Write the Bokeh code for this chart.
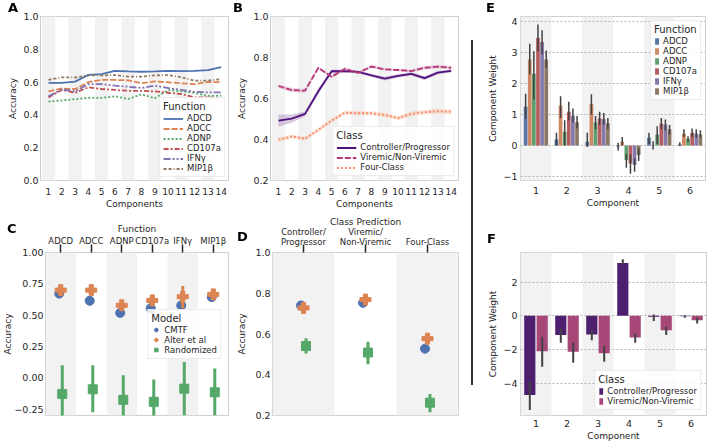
import colorsys
from bokeh.plotting import figure
from bokeh.layouts import row, column
from bokeh.models import Legend, LegendItem, FixedTicker, BoxAnnotation, Div, Range1d
from bokeh.embed import file_html
from bokeh.resources import INLINE

# ---------------- data ----------------
components = [1, 2, 3, 4, 5, 6, 7, 8, 9, 10, 11, 12, 13, 14]
functions = ["ADCD", "ADCC", "ADNP", "CD107a", "IFNγ", "MIP1β"]

# Panel A: accuracy by number of components per function
acc_ADCD = [0.595, 0.595, 0.603, 0.644, 0.649, 0.669, 0.665, 0.663, 0.665, 0.669, 0.667, 0.669, 0.673, 0.692]
acc_ADCC = [0.543, 0.561, 0.557, 0.600, 0.613, 0.613, 0.611, 0.594, 0.604, 0.599, 0.593, 0.587, 0.601, 0.599]
acc_ADNP = [0.481, 0.488, 0.496, 0.504, 0.504, 0.514, 0.497, 0.525, 0.502, 0.551, 0.544, 0.534, 0.516, 0.517]
acc_CD107a = [0.507, 0.552, 0.535, 0.568, 0.558, 0.552, 0.547, 0.547, 0.543, 0.535, 0.527, 0.507, 0.507, 0.501]
acc_IFNg = [0.513, 0.556, 0.543, 0.588, 0.588, 0.578, 0.572, 0.564, 0.578, 0.564, 0.552, 0.541, 0.537, 0.537]
acc_MIP1b = [0.614, 0.629, 0.628, 0.641, 0.641, 0.643, 0.633, 0.633, 0.641, 0.643, 0.630, 0.609, 0.609, 0.618]

# Panel B: accuracy by class task
class_names = ["Controller/Progressor", "Viremic/Non-Viremic", "Four-Class"]
acc_cp = [0.492, 0.502, 0.525, 0.635, 0.733, 0.734, 0.730, 0.713, 0.697, 0.710, 0.720, 0.699, 0.726, 0.735]
ci_cp = [0.030, 0.020, 0.012, 0.015, 0.008, 0.008, 0.007, 0.008, 0.009, 0.009, 0.008, 0.010, 0.008, 0.008]
acc_vnv = [0.661, 0.641, 0.638, 0.750, 0.706, 0.745, 0.725, 0.756, 0.742, 0.739, 0.734, 0.750, 0.755, 0.750]
ci_vnv = [0.008, 0.010, 0.010, 0.006, 0.006, 0.008, 0.006, 0.009, 0.006, 0.006, 0.006, 0.008, 0.008, 0.008]
acc_four = [0.399, 0.415, 0.404, 0.447, 0.492, 0.531, 0.528, 0.528, 0.520, 0.504, 0.525, 0.533, 0.538, 0.535]
ci_four = [0.010, 0.010, 0.010, 0.010, 0.010, 0.010, 0.010, 0.010, 0.010, 0.010, 0.012, 0.012, 0.012, 0.012]

# Panel C: model comparison per function
models = ["CMTF", "Alter et al", "Randomized"]
c_cmtf = [0.672, 0.615, 0.518, 0.556, 0.578, 0.644]
c_alter = [0.700, 0.700, 0.579, 0.618, 0.647, 0.666]
c_alter_lo = [0.690, 0.690, 0.570, 0.610, 0.555, 0.657]
c_alter_hi = [0.710, 0.710, 0.588, 0.626, 0.733, 0.675]
c_rand = [-0.128, -0.091, -0.175, -0.191, -0.086, -0.115]
c_rand_lo = [-0.360, -0.275, -0.370, -0.370, -0.300, -0.300]
c_rand_hi = [0.101, 0.101, 0.022, -0.012, 0.127, 0.074]

# Panel D: model comparison per class prediction
d_classes = ["Controller/\nProgressor", "Viremic/\nNon-Viremic", "Four-Class"]
d_cmtf = [0.740, 0.753, 0.528]
d_alter = [0.728, 0.769, 0.577]
d_alter_lo = [0.720, 0.760, 0.562]
d_alter_hi = [0.736, 0.778, 0.592]
d_rand = [0.541, 0.509, 0.263]
d_rand_lo = [0.504, 0.452, 0.216]
d_rand_hi = [0.579, 0.562, 0.305]

# Panel E: component weights per function
comp6 = [1, 2, 3, 4, 5, 6]
w_ADCD = [1.25, 0.19, 0.12, -0.03, 0.25, 0.03]
w_ADCD_lo = [0.87, 0.00, -0.05, -0.16, 0.05, -0.02]
w_ADCD_hi = [1.67, 0.41, 0.41, 0.09, 0.41, 0.10]
w_ADCC = [2.77, 1.29, 1.34, 0.12, -0.02, 0.38]
w_ADCC_lo = [2.29, 0.89, 1.00, 0.00, -0.13, 0.27]
w_ADCC_hi = [3.28, 1.59, 1.65, 0.27, 0.14, 0.52]
w_ADNP = [2.31, 0.44, 0.75, -0.47, 0.35, 0.22]
w_ADNP_lo = [1.48, 0.00, 0.52, -0.72, 0.05, 0.11]
w_ADNP_hi = [3.04, 0.81, 0.95, -0.27, 0.62, 0.30]
w_CD107a = [3.47, 1.09, 0.87, -0.58, 0.70, 0.41]
w_CD107a_lo = [3.04, 0.81, 0.66, -0.91, 0.52, 0.27]
w_CD107a_hi = [3.90, 1.41, 1.09, -0.29, 0.89, 0.55]
w_IFNg = [3.34, 0.96, 0.85, -0.63, 0.68, 0.39]
w_IFNg_lo = [2.94, 0.73, 0.66, -0.85, 0.48, 0.25]
w_IFNg_hi = [3.72, 1.19, 1.05, -0.42, 0.84, 0.52]
w_MIP1b = [2.77, 0.75, 0.72, -0.31, 0.52, 0.35]
w_MIP1b_lo = [2.51, 0.55, 0.52, -0.50, 0.35, 0.25]
w_MIP1b_hi = [3.06, 0.95, 0.89, -0.10, 0.66, 0.49]

# Panel F: component weights per class
f_cp = [-4.69, -1.14, -1.10, 3.13, -0.05, -0.03]
f_cp_lo = [-5.57, -1.59, -1.44, 3.05, -0.30, -0.12]
f_cp_hi = [-3.90, -0.75, -0.85, 3.35, 0.08, 0.04]
f_vnv = [-2.09, -2.13, -2.22, -1.28, -0.85, -0.26]
f_vnv_lo = [-3.01, -2.78, -2.72, -1.59, -1.14, -0.45]
f_vnv_hi = [-1.24, -1.59, -1.77, -1.04, -0.65, -0.12]

# tick labels
a_yticks = [0.0, 0.2, 0.4, 0.6, 0.8, 1.0]
a_ylabels = ["0.0", "0.2", "0.4", "0.6", "0.8", "1.0"]
b_yticks = [0.2, 0.4, 0.6, 0.8, 1.0]
b_ylabels = ["0.2", "0.4", "0.6", "0.8", "1.0"]
c_yticks = [-0.25, 0.0, 0.25, 0.5, 0.75, 1.0]
c_ylabels = ["\u22120.25", "0.00", "0.25", "0.50", "0.75", "1.00"]
e_yticks = [-1, 0, 1, 2, 3, 4]
e_ylabels = ["\u22121", "0", "1", "2", "3", "4"]
f_yticks = [-4, -2, 0, 2]
f_ylabels = ["\u22124", "\u22122", "0", "2"]
panel_letters = ["A", "B", "E", "C", "D", "F"]

# ---------------- style ----------------
FONT = "DejaVu Sans"
TXT = "#262626"
DEEP = ["#4c72b0", "#dd8452", "#55a868", "#c44e52", "#8172b3", "#937860"]
MAGMA3 = ["#51127c", "#b73779", "#fc8961"]
BAND = "#f2f2f2"


def desat(hexc, f=0.75):
    r, g, b = [int(hexc[i:i + 2], 16) / 255 for i in (1, 3, 5)]
    h, l, s = colorsys.rgb_to_hls(r, g, b)
    r, g, b = colorsys.hls_to_rgb(h, l, s * f)
    return "#%02x%02x%02x" % tuple(int(round(v * 255)) for v in (r, g, b))


def make_fig(w, h, xr, yr, mb, above=False):
    p = figure(width=w, height=h, x_range=Range1d(*xr), y_range=Range1d(*yr),
               output_backend="svg", toolbar_location=None,
               x_axis_location="above" if above else "below",
               min_border_left=mb[0], min_border_right=mb[1],
               min_border_top=mb[2], min_border_bottom=mb[3])
    p.outline_line_color = "#cfcfcf"
    p.background_fill_color = "white"
    p.border_fill_color = "white"
    p.xgrid.visible = False
    p.ygrid.visible = False
    for ax in p.axis:
        ax.axis_line_color = None
        ax.major_tick_line_color = None
        ax.minor_tick_line_color = None
        ax.major_tick_out = 0
        ax.major_tick_in = 0
        ax.minor_tick_out = 0
        ax.minor_tick_in = 0
        ax.major_label_text_font = FONT
        ax.major_label_text_font_size = "9.5px"
        ax.major_label_text_color = TXT
        ax.axis_label_text_font = FONT
        ax.axis_label_text_font_size = "9px"
        ax.axis_label_text_font_style = "normal"
        ax.axis_label_text_color = TXT
    for ax in p.below:
        ax.major_label_standoff = 7
        ax.axis_label_standoff = 1
    for ax in p.left:
        ax.major_label_standoff = 2
        ax.axis_label_standoff = 2
    return p


def set_yticks(p, ticks, labels):
    p.yaxis.ticker = FixedTicker(ticks=ticks)
    p.yaxis.major_label_overrides = {t: s for t, s in zip(ticks, labels)}


def bands(p, centers):
    for c in centers:
        p.add_layout(BoxAnnotation(left=c - 0.5, right=c + 0.5, fill_color=BAND,
                                   fill_alpha=1.0, line_color=None, level="image"))


def make_legend(items, title, loc, gw=20, gh=9, margin=4):
    return Legend(items=items, title=title, location=loc,
                  label_text_font=FONT, label_text_font_size="8.5px", label_text_color=TXT,
                  title_text_font=FONT, title_text_font_size="10px",
                  title_text_font_style="normal", title_text_color=TXT,
                  glyph_width=gw, glyph_height=gh, label_height=8, label_standoff=4,
                  spacing=0, padding=3, margin=margin, title_standoff=1,
                  border_line_color="#d9d9d9", background_fill_color="white",
                  background_fill_alpha=0.85)


# ---------------- Panel A ----------------
pA = make_fig(234, 212, (0.4, 14.55), (0.0, 1.0), (40, 6, 16, 31))
bands(pA, [c for c in components if c % 2 == 1])
a_series = [acc_ADCD, acc_ADCC, acc_ADNP, acc_CD107a, acc_IFNg, acc_MIP1b]
a_dash = ["solid", "6 2", "2 2", "5 2 2 2", "7 2 2 2 2 2", "3 2 3 2 1 2"]
items = []
for name, ys, col, dash in zip(functions, a_series, DEEP, a_dash):
    r = pA.line(components, ys, line_color=col, line_width=1.8, line_dash=dash)
    items.append(LegendItem(label=name, renderers=[r]))
pA.add_layout(make_legend(items, "Function", "bottom_right", margin=3))
pA.xaxis.ticker = FixedTicker(ticks=components)
pA.xaxis.major_label_text_font_size = "9px"
set_yticks(pA, a_yticks, a_ylabels)
pA.xaxis.axis_label = "Components"
pA.yaxis.axis_label = "Accuracy"

# ---------------- Panel B ----------------
pB = make_fig(232, 212, (0.4, 14.55), (0.2, 1.0), (36, 8, 16, 31))
bands(pB, [c for c in components if c % 2 == 1])
b_series = [(acc_cp, ci_cp), (acc_vnv, ci_vnv), (acc_four, ci_four)]
b_dash = ["solid", "6 2", "2 2"]
items = []
for name, (ys, ci), col, dash in zip(class_names, b_series, MAGMA3, b_dash):
    pB.varea(x=components, y1=[y - c for y, c in zip(ys, ci)], y2=[y + c for y, c in zip(ys, ci)],
             fill_color=col, fill_alpha=0.22)
    r = pB.line(components, ys, line_color=col, line_width=1.8, line_dash=dash)
    items.append(LegendItem(label=name, renderers=[r]))
pB.add_layout(make_legend(items, "Class", "bottom_right", margin=4))
pB.xaxis.ticker = FixedTicker(ticks=components)
pB.xaxis.major_label_text_font_size = "9px"
set_yticks(pB, b_yticks, b_ylabels)
pB.yaxis.axis_label_standoff = 3
pB.xaxis.axis_label = "Components"
pB.yaxis.axis_label = "Accuracy"


# ---------------- Panel C ----------------
def style_top_axis(p, names, label_size="8.5px", line_height=1.2, standoff=-1, lab_standoff=-1):
    ax = p.xaxis[0]
    ax.ticker = FixedTicker(ticks=list(range(len(names))))
    ax.major_label_overrides = {i: n for i, n in enumerate(names)}
    ax.major_tick_line_color = "#262626"
    ax.major_tick_line_width = 1.5
    ax.major_tick_out = 8
    ax.major_tick_in = 0
    ax.major_label_standoff = standoff
    ax.axis_label_standoff = lab_standoff
    ax.major_label_text_font_size = label_size
    ax.major_label_text_line_height = line_height


pC = make_fig(234, 231, (-0.5, 5.5), (-0.3, 1.0), (40, 6, 40, 26), above=True)
bands(pC, [i for i in range(len(functions)) if i % 2 == 0])
xc = list(range(len(functions)))
dodgeC = [-0.05, 0.0, 0.05]
x_cm = [x + dodgeC[0] for x in xc]
x_al = [x + dodgeC[1] for x in xc]
x_rd = [x + dodgeC[2] for x in xc]
r_cm = pC.scatter(x_cm, c_cmtf, marker="circle", size=9, fill_color=DEEP[0], line_color=DEEP[0])
pC.segment(x0=x_al, y0=c_alter_lo, x1=x_al, y1=c_alter_hi, line_color=DEEP[1], line_width=3)
r_al = pC.scatter(x_al, c_alter, marker="plus", size=11, fill_color=DEEP[1], line_color=DEEP[1])
pC.segment(x0=x_rd, y0=c_rand_lo, x1=x_rd, y1=c_rand_hi, line_color=DEEP[2], line_width=3)
r_rd = pC.scatter(x_rd, c_rand, marker="square", size=9, fill_color=DEEP[2], line_color=DEEP[2])
items = [LegendItem(label=m, renderers=[r]) for m, r in zip(models, [r_cm, r_al, r_rd])]
pC.add_layout(make_legend(items, "Model", "center_right", gw=9, margin=7))
style_top_axis(pC, functions, standoff=-1, lab_standoff=-1)
set_yticks(pC, c_yticks, c_ylabels)
pC.yaxis.major_label_standoff = 2
pC.yaxis.axis_label_standoff = -2
pC.xaxis.axis_label = "Function"
pC.yaxis.axis_label = "Accuracy"

# ---------------- Panel D ----------------
pD = make_fig(232, 231, (-0.5, 2.5), (0.2, 1.0), (38, 8, 40, 26), above=True)
bands(pD, [i for i in range(len(d_classes)) if i % 2 == 0])
xd = list(range(len(d_classes)))
dodgeD = [-0.04, 0.0, 0.04]
xd_cm = [x + dodgeD[0] for x in xd]
xd_al = [x + dodgeD[1] for x in xd]
xd_rd = [x + dodgeD[2] for x in xd]
pD.scatter(xd_cm, d_cmtf, marker="circle", size=9, fill_color=DEEP[0], line_color=DEEP[0])
pD.segment(x0=xd_al, y0=d_alter_lo, x1=xd_al, y1=d_alter_hi, line_color=DEEP[1], line_width=3)
pD.scatter(xd_al, d_alter, marker="plus", size=11, fill_color=DEEP[1], line_color=DEEP[1])
pD.segment(x0=xd_rd, y0=d_rand_lo, x1=xd_rd, y1=d_rand_hi, line_color=DEEP[2], line_width=3)
pD.scatter(xd_rd, d_rand, marker="square", size=9, fill_color=DEEP[2], line_color=DEEP[2])
style_top_axis(pD, d_classes, label_size="8.5px", line_height=0.95, standoff=-2, lab_standoff=-3)
set_yticks(pD, b_yticks, b_ylabels)
pD.yaxis.axis_label_standoff = 5
pD.xaxis.axis_label = "Class Prediction"
pD.yaxis.axis_label = "Accuracy"

# ---------------- Panel E ----------------
pE = make_fig(234, 212, (0.5, 6.5), (-1.13, 4.16), (46, 3, 16, 32))
bands(pE, [c for c in comp6 if c % 2 == 1])
pE.ygrid.visible = True
pE.ygrid.ticker = FixedTicker(ticks=e_yticks)
pE.ygrid.grid_line_color = "#b3b3b3"
pE.ygrid.grid_line_dash = "2 2"
pE.ygrid.grid_line_width = 1
e_series = [(w_ADCD, w_ADCD_lo, w_ADCD_hi), (w_ADCC, w_ADCC_lo, w_ADCC_hi),
            (w_ADNP, w_ADNP_lo, w_ADNP_hi), (w_CD107a, w_CD107a_lo, w_CD107a_hi),
            (w_IFNg, w_IFNg_lo, w_IFNg_hi), (w_MIP1b, w_MIP1b_lo, w_MIP1b_hi)]
nE = len(functions)
bw = 0.8 / nE
items = []
for k, (name, (vals, lo, hi), col) in enumerate(zip(functions, e_series, DEEP)):
    off = -0.4 + bw * (k + 0.5)
    xs = [c + off for c in comp6]
    r = pE.vbar(x=xs, top=vals, bottom=0, width=bw * 0.9, fill_color=desat(col), line_color=None)
    pE.segment(x0=xs, y0=lo, x1=xs, y1=hi, line_color="#424242", line_width=1.5)
    items.append(LegendItem(label=name, renderers=[r]))
pE.add_layout(make_legend(items, "Function", "top_right", gw=5, gh=8, margin=4))
pE.xaxis.ticker = FixedTicker(ticks=comp6)
pE.xaxis.major_label_standoff = 6
set_yticks(pE, e_yticks, e_ylabels)
pE.yaxis.major_label_standoff = 3
pE.yaxis.axis_label_standoff = 2
pE.xaxis.axis_label = "Component"
pE.yaxis.axis_label = "Component Weight"

# ---------------- Panel F ----------------
pF = make_fig(234, 231, (0.5, 6.5), (-5.9, 3.75), (46, 2, 40, 27))
bands(pF, [c for c in comp6 if c % 2 == 1])
pF.ygrid.visible = True
pF.ygrid.ticker = FixedTicker(ticks=f_yticks)
pF.ygrid.grid_line_color = "#b3b3b3"
pF.ygrid.grid_line_dash = "2 2"
pF.ygrid.grid_line_width = 1
f_series = [(f_cp, f_cp_lo, f_cp_hi), (f_vnv, f_vnv_lo, f_vnv_hi)]
f_off = [-0.2, 0.2]
items = []
for name, (vals, lo, hi), col, off in zip(class_names[:2], f_series, MAGMA3[:2], f_off):
    xs = [c + off for c in comp6]
    r = pF.vbar(x=xs, top=vals, bottom=0, width=0.36, fill_color=desat(col), line_color=None)
    pF.segment(x0=xs, y0=lo, x1=xs, y1=hi, line_color="#424242", line_width=2)
    items.append(LegendItem(label=name, renderers=[r]))
pF.add_layout(make_legend(items, "Class", "bottom_right", gw=5, gh=8, margin=5))
pF.xaxis.ticker = FixedTicker(ticks=comp6)
pF.xaxis.major_label_standoff = 4
pF.xaxis.axis_label_standoff = 1
set_yticks(pF, f_yticks, f_ylabels)
pF.yaxis.major_label_standoff = 3
pF.yaxis.axis_label_standoff = 2
pF.xaxis.axis_label = "Component"
pF.yaxis.axis_label = "Component Weight"

# ---------------- panel letters + separator ----------------
letter_pos = [(8, 1), (233, 1), (486, 1), (7, 222), (237, 230), (487, 232)]
letter_css = ("position:fixed;z-index:10;line-height:1;color:#000;"
              "font-family:'DejaVu Sans';font-weight:bold;font-size:13px;")
letters_html = "".join(
    '<div style="%sleft:%dpx;top:%dpx;">%s</div>' % (letter_css, x, y, t)
    for t, (x, y) in zip(panel_letters, letter_pos))

sep_top = Div(text=letters_html +
              '<div style="width:2px;height:172px;background:#333333;margin-left:5px;margin-top:40px;"></div>',
              width=8, height=212, margin=0)
sep_bot = Div(text='<div style="width:2px;height:173px;background:#333333;margin-left:5px;margin-top:0px;"></div>',
              width=8, height=231, margin=0)

top = row(pA, pB, sep_top, pE, spacing=0)
bottom = row(pC, pD, sep_bot, pF, spacing=0)
layout = column(top, bottom, spacing=0)

open("out.html", "w").write(file_html(layout, INLINE))
